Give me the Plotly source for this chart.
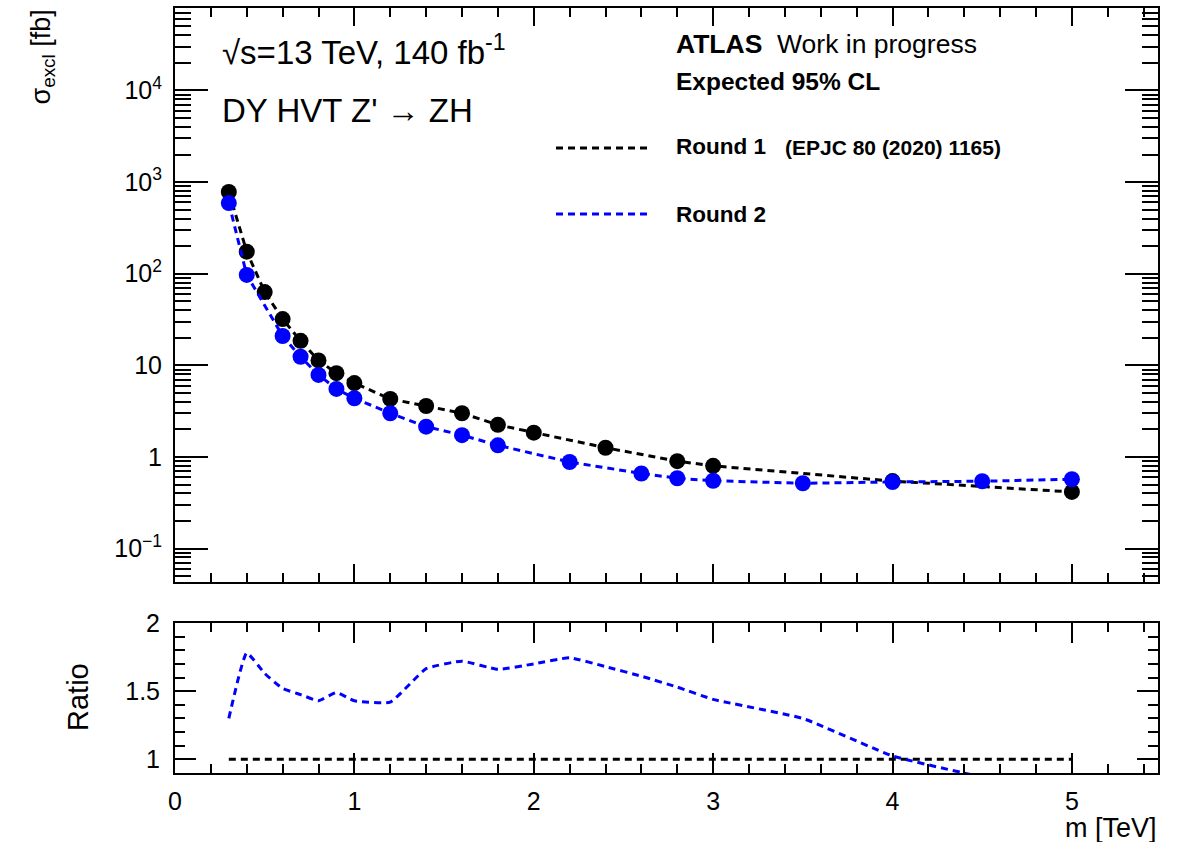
import plotly.graph_objects as go

# ---------------- data ----------------
mass_r1 = [0.3, 0.4, 0.5, 0.6, 0.7, 0.8, 0.9, 1.0, 1.2, 1.4, 1.6, 1.8, 2.0, 2.4, 2.8, 3.0, 4.0, 5.0]
xsec_r1 = [780, 174, 63, 32, 18.5, 11.3, 8.2, 6.4, 4.3, 3.6, 3.0, 2.24, 1.84, 1.26, 0.90, 0.80, 0.545, 0.415]

mass_r2 = [0.3, 0.4, 0.6, 0.7, 0.8, 0.9, 1.0, 1.2, 1.4, 1.6, 1.8, 2.2, 2.6, 2.8, 3.0, 3.5, 4.0, 4.5, 5.0]
xsec_r2 = [590, 97, 20.9, 12.4, 7.86, 5.53, 4.37, 3.0, 2.14, 1.73, 1.34, 0.88, 0.66, 0.585, 0.55, 0.516, 0.533, 0.543, 0.571]

ratio_x = [0.3, 0.4, 0.5, 0.6, 0.7, 0.8, 0.9, 1.0, 1.2, 1.4, 1.6, 1.8, 2.0, 2.2, 2.4, 2.6, 2.8, 3.0, 3.5, 4.0, 4.5, 5.0]
ratio_y = [1.30, 1.78, 1.63, 1.52, 1.475, 1.43, 1.49, 1.43, 1.42, 1.665, 1.72, 1.66, 1.70, 1.745, 1.68, 1.61, 1.53, 1.44, 1.30, 1.025, 0.87, 0.73]
ratio_ref = [v / v for v in xsec_r1]

y_tickvals = [0.1, 1, 10, 100, 1000, 10000]
y_ticktext = ["10<sup>\u22121</sup>", "1", "10", "10<sup>2</sup>", "10<sup>3</sup>", "10<sup>4</sup>"]

# ---------------- layout helpers ----------------
W, H = 1178, 842
L, R, T, B = 175, 20, 8, 69
PW, PH = W - L - R, H - T - B


def px(x):
    return (x - L) / PW


def py(y):
    return (H - B - y) / PH


main_bottom = py(582)
ratio_top = py(623)

FONT = "Liberation Sans, Arial, Helvetica, sans-serif"
BLUE = "#0000ff"
DASH = "7px,5px"

fig = go.Figure()

# main panel
fig.add_trace(go.Scatter(x=mass_r1, y=xsec_r1, mode="lines+markers", xaxis="x", yaxis="y",
                         line=dict(color="black", width=3, dash=DASH),
                         marker=dict(color="black", size=16, symbol="circle"), showlegend=False))
fig.add_trace(go.Scatter(x=mass_r2, y=xsec_r2, mode="lines+markers", xaxis="x", yaxis="y",
                         line=dict(color=BLUE, width=3, dash=DASH),
                         marker=dict(color=BLUE, size=16, symbol="circle"), showlegend=False))

# ratio panel
fig.add_trace(go.Scatter(x=mass_r1, y=ratio_ref, mode="lines", xaxis="x2", yaxis="y2",
                         line=dict(color="black", width=3, dash=DASH), showlegend=False))
fig.add_trace(go.Scatter(x=ratio_x, y=ratio_y, mode="lines", xaxis="x2", yaxis="y2",
                         line=dict(color=BLUE, width=3, dash=DASH, shape="spline", smoothing=0.4),
                         showlegend=False))

minor_log = [m * 10 ** e for e in range(-2, 5) for m in range(2, 10)]

common_x = dict(range=[0, 5.48], showline=True, linewidth=2, linecolor="black", mirror="ticks",
                ticks="inside", tickwidth=1.5, tickcolor="black", showgrid=False, zeroline=False,
                tickvals=[0, 1, 2, 3, 4, 5], automargin=False,
                minor=dict(ticks="inside", ticklen=9, tickwidth=1.5, tickcolor="black", dtick=0.2, showgrid=False))

fig.update_layout(
    width=W, height=H,
    margin=dict(l=L, r=R, t=T, b=B, autoexpand=False),
    paper_bgcolor="white", plot_bgcolor="white",
    font=dict(family=FONT, color="black", size=25),
    xaxis=dict(domain=[0, 1], anchor="y", showticklabels=False, ticklen=18, **common_x),
    yaxis=dict(domain=[main_bottom, 1], anchor="x", type="log", range=[-1.365, 4.9],
               showline=True, linewidth=2, linecolor="black", mirror="ticks", automargin=False,
               ticks="inside", ticklen=33, tickwidth=1.5, tickcolor="black",
               tickvals=y_tickvals, ticktext=y_ticktext, showgrid=False, zeroline=False,
               tickfont=dict(size=25), ticklabelstandoff=6,
               minor=dict(ticks="inside", ticklen=16, tickwidth=1.5, tickcolor="black",
                          tickvals=minor_log, showgrid=False)),
    xaxis2=dict(domain=[0, 1], anchor="y2", showticklabels=True, ticklen=20,
                tickfont=dict(size=25), ticklabelstandoff=5, **common_x),
    yaxis2=dict(domain=[0, ratio_top], anchor="x2", range=[0.9, 2.0],
                showline=True, linewidth=2, linecolor="black", mirror="ticks", automargin=False,
                ticks="inside", ticklen=21, tickwidth=1.5, tickcolor="black",
                tickvals=[1, 1.5, 2], ticktext=["1", "1.5", "2"], showgrid=False, zeroline=False,
                tickfont=dict(size=25), ticklabelstandoff=8,
                minor=dict(ticks="inside", ticklen=10, tickwidth=1.5, tickcolor="black",
                           dtick=0.1, showgrid=False)),
)

ann = []


def text(x, y, s, size, xanchor="left", yanchor="middle", angle=0):
    ann.append(dict(xref="paper", yref="paper", x=px(x), y=py(y), text=s, showarrow=False,
                    xanchor=xanchor, yanchor=yanchor, textangle=angle,
                    font=dict(family=FONT, size=size, color="black")))


text(220, 50, "\u221as=13 TeV, 140 fb<sup>-1</sup>", 33)
text(220, 111, "DY HVT Z' \u2192 ZH", 33)
text(674, 44, "<b>ATLAS</b>  Work in progress", 26.5)
text(674, 81, "<b>Expected 95% CL</b>", 24.5)
text(674, 146, "<b>Round 1</b>", 22.5)
text(783, 147, "<b>(EPJC 80 (2020) 1165)</b>", 21)
text(674, 214, "<b>Round 2</b>", 22.5)
text(42, 8, "\u03c3<sub>excl</sub> [fb]", 27, xanchor="center", yanchor="top", angle=-90)
text(78, 697, "Ratio", 29, xanchor="center", yanchor="middle", angle=-90)
text(1159, 828, "m [TeV]", 27, xanchor="right", yanchor="middle")

fig.update_layout(annotations=ann)

# legend sample lines
for yy, col in [(148, "black"), (214, BLUE)]:
    fig.add_shape(type="line", xref="paper", yref="paper", x0=px(556), x1=px(652), y0=py(yy), y1=py(yy),
                  line=dict(color=col, width=3, dash=DASH))

fig.write_html("out.html")
